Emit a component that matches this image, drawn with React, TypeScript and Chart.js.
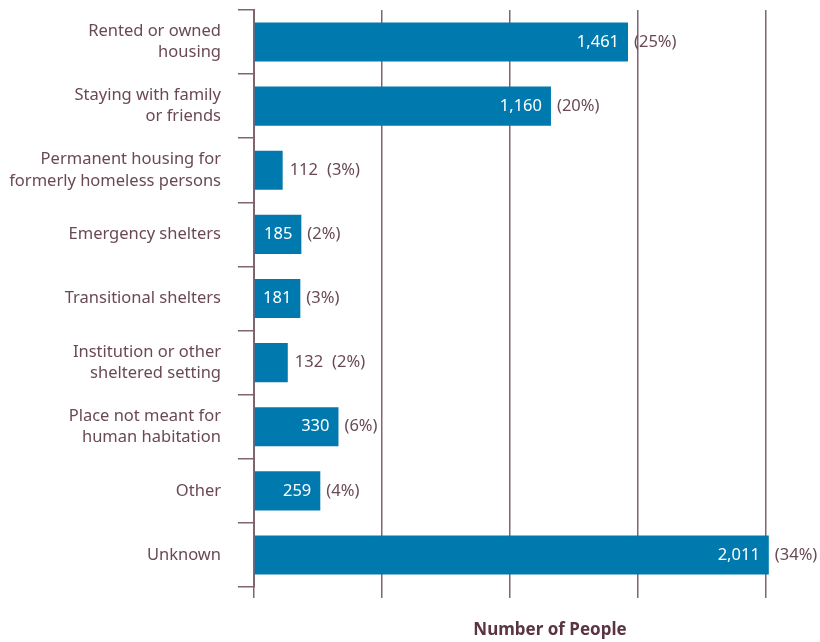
import React, { useEffect, useRef } from "react";
import { Chart, registerables } from "chart.js";

Chart.register(...registerables);

const categories: string[][] = [
  ["Rented or owned", "housing"],
  ["Staying with family", "or friends"],
  ["Permanent housing for", "formerly homeless persons"],
  ["Emergency shelters"],
  ["Transitional shelters"],
  ["Institution or other", "sheltered setting"],
  ["Place not meant for", "human habitation"],
  ["Other"],
  ["Unknown"],
];
const counts: number[] = [1461, 1160, 112, 185, 181, 132, 330, 259, 2011];
const percents: number[] = [25, 20, 3, 2, 3, 2, 6, 4, 34];
const xTickValues: number[] = [0, 500, 1000, 1500, 2000];
const axisTitle = "Number of People";

const BAR = "#007AAE";
const GRID = "#806470";
const TEXT = "#6A4957";
const TITLE = "#5B3444";
const FONT = "'Noto Sans', 'Open Sans', sans-serif";

export default function App() {
  const ref = useRef<HTMLCanvasElement | null>(null);
  useEffect(() => {
    if (!ref.current) return;
    const labelPlugin = {
      id: "barLabels",
      afterDatasetsDraw(chart: any) {
        const ctx = chart.ctx;
        const meta = chart.getDatasetMeta(0);
        ctx.save();
        ctx.font = `16.5px ${FONT}`;
        ctx.textBaseline = "middle";
        meta.data.forEach((bar: any, i: number) => {
          const v = counts[i];
          const txt = v.toLocaleString("en-US");
          const pct = `(${percents[i]}%)`;
          const w = bar.x - bar.base;
          const tw = ctx.measureText(txt).width;
          if (tw + 14 < w) {
            ctx.fillStyle = "#ffffff";
            ctx.textAlign = "right";
            ctx.fillText(txt, bar.x - 9, bar.y);
            ctx.fillStyle = TEXT;
            ctx.textAlign = "left";
            ctx.fillText(pct, bar.x + 6, bar.y);
          } else {
            ctx.fillStyle = TEXT;
            ctx.textAlign = "left";
            ctx.fillText(txt, bar.x + 7, bar.y);
            ctx.fillText(pct, bar.x + 7 + tw + 9, bar.y);
          }
        });
        ctx.restore();
      },
      afterDraw(chart: any) {
        const ctx = chart.ctx;
        const a = chart.chartArea;
        ctx.save();
        ctx.font = `bold 17px ${FONT}`;
        ctx.fillStyle = TITLE;
        ctx.textAlign = "center";
        ctx.textBaseline = "middle";
        ctx.fillText(axisTitle, a.left + 296, 630);
        ctx.restore();
      },
    };
    const chart = new Chart(ref.current, {
      type: "bar",
      data: {
        labels: categories,
        datasets: [
          {
            data: counts,
            backgroundColor: BAR,
            borderWidth: 0,
            categoryPercentage: 1,
            barPercentage: 0.61,
            clip: false as any,
          },
        ],
      },
      options: {
        indexAxis: "y",
        animation: false,
        responsive: false,
        maintainAspectRatio: false,
        layout: { padding: { top: 10, right: 54, bottom: 44, left: 0 } },
        plugins: { legend: { display: false }, tooltip: { enabled: false } },
        scales: {
          x: {
            min: xTickValues[0],
            max: xTickValues[xTickValues.length - 1],
            afterBuildTicks: (s: any) => {
              s.ticks = xTickValues.map((v) => ({ value: v }));
            },
            ticks: { display: false },
            grid: { color: GRID, lineWidth: 1.5, drawTicks: true, tickLength: 11 },
            border: { display: false },
          },
          y: {
            afterFit: (s: any) => {
              s.width = 254;
              s.paddingTop = 0;
              s.paddingBottom = 0;
            },
            ticks: {
              color: TEXT,
              padding: 17,
              font: { family: FONT, size: 16.5, lineHeight: 1.28 },
            },
            grid: {
              color: GRID,
              lineWidth: 1.5,
              drawOnChartArea: false,
              drawTicks: true,
              tickLength: 16,
              offset: true,
            },
            border: { display: true, color: GRID, width: 2 },
          },
        },
      },
      plugins: [labelPlugin],
    });
    return () => chart.destroy();
  }, []);
  return (
    <div style={{ position: "absolute", left: 0, top: 0, width: 820, height: 642, background: "#fff" }}>
      <canvas ref={ref} width={820} height={642} style={{ width: 820, height: 642 }} />
    </div>
  );
}
